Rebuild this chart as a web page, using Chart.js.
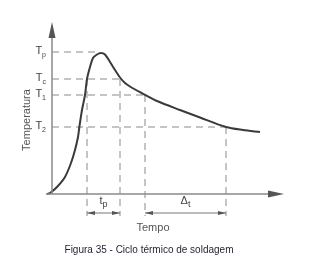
<!DOCTYPE html>
<html><head><meta charset="utf-8">
<script src="https://cdn.jsdelivr.net/npm/chart.js@4"></script>
<style>html,body{margin:0;padding:0;background:#fff;}#wrap{width:324px;height:266px;}</style>
</head><body><div id="wrap"><canvas id="c" width="324" height="266"></canvas></div>
<script>
// Welding thermal cycle (arbitrary units)
const curveTime = [1, 4, 11, 19, 25, 29, 32, 33.5, 36, 39, 41, 44, 47, 51, 55, 59, 64, 69, 74, 79, 84, 94, 101, 111, 134, 154, 180, 197, 214];
const curveTemp = [0, 1, 7, 17, 31, 44, 57, 68, 84, 99, 115, 127, 136, 139.5, 141, 139.5, 132, 124, 116.5, 111, 107.5, 101.8, 98.2, 93, 84, 76.5, 67, 64, 62];
const levelNames = ['p', 'c', '1', '2'];
const levelTemps = [142, 115, 99, 67];
const levelEndTimes = [51, 74, 99, 180];
const markTimes = [41, 74, 99, 180];
const markTopTemps = [115, 115, 99, 67];
const spanStart = [41, 99];
const spanEnd = [74, 180];
const spanMain = ['t', 'Δ'];
const spanSub = ['p', 't'];
const axisStartTime = 6;
const markBottom = -22;
const spanLevel = -19;

const datasets = [{
  data: curveTime.map((t, i) => ({x: t, y: curveTemp[i]})),
  borderColor: '#3a3a3a', borderWidth: 2, pointRadius: 0,
  tension: 0.3, fill: false, clip: false
}];
levelTemps.forEach((lv, i) => datasets.push({
  data: [{x: axisStartTime, y: lv}, {x: levelEndTimes[i], y: lv}],
  borderColor: '#8a8a8a', borderWidth: 1, borderDash: [7, 5], pointRadius: 0, clip: false
}));
markTimes.forEach((t, i) => datasets.push({
  data: [{x: t, y: markTopTemps[i]}, {x: t, y: markBottom}],
  borderColor: '#8a8a8a', borderWidth: 1, borderDash: [7, 5], pointRadius: 0, clip: false
}));

function tri(ctx, pts) { ctx.beginPath(); ctx.moveTo(pts[0][0], pts[0][1]); ctx.lineTo(pts[1][0], pts[1][1]); ctx.lineTo(pts[2][0], pts[2][1]); ctx.closePath(); ctx.fill(); }
function subText(ctx, main, sub, x, y, size, subSize, align) {
  ctx.font = size + 'px "Liberation Sans", Arial, sans-serif';
  const w1 = ctx.measureText(main).width;
  ctx.font = subSize + 'px "Liberation Sans", Arial, sans-serif';
  const w2 = ctx.measureText(sub).width;
  let x0 = align === 'right' ? x - w1 - w2 : (align === 'center' ? x - (w1 + w2) / 2 : x);
  ctx.textAlign = 'left'; ctx.textBaseline = 'alphabetic';
  ctx.font = size + 'px "Liberation Sans", Arial, sans-serif';
  ctx.fillText(main, x0, y);
  ctx.font = subSize + 'px "Liberation Sans", Arial, sans-serif';
  ctx.fillText(sub, x0 + w1, y + size * 0.3);
}

const deco = {
  id: 'deco',
  afterDatasetsDraw(chart) {
    const ctx = chart.ctx, xs = chart.scales.x, ys = chart.scales.y;
    const ax = xs.getPixelForValue(axisStartTime), ay = ys.getPixelForValue(0);
    ctx.save();
    // axes
    ctx.strokeStyle = '#8a8a8a'; ctx.lineWidth = 1.5;
    ctx.beginPath(); ctx.moveTo(ax, ay); ctx.lineTo(ax, chart.chartArea.top + 14); ctx.stroke();
    ctx.beginPath(); ctx.moveTo(xs.getPixelForValue(0), ay); ctx.lineTo(chart.chartArea.right - 14, ay); ctx.stroke();
    ctx.fillStyle = '#555';
    tri(ctx, [[ax, chart.chartArea.top], [ax - 3.5, chart.chartArea.top + 16], [ax + 3.5, chart.chartArea.top + 16]]);
    tri(ctx, [[chart.chartArea.right, ay], [chart.chartArea.right - 16, ay - 3.5], [chart.chartArea.right - 16, ay + 3.5]]);
    // level labels
    ctx.fillStyle = '#444';
    levelTemps.forEach((lv, i) => subText(ctx, 'T', levelNames[i], ax - 6, ys.getPixelForValue(lv) + 2, 11, 7, 'right'));
    // span arrows
    const sy = ys.getPixelForValue(spanLevel);
    spanStart.forEach((s, i) => {
      const x1 = xs.getPixelForValue(s), x2 = xs.getPixelForValue(spanEnd[i]);
      ctx.strokeStyle = '#777'; ctx.lineWidth = 1;
      ctx.beginPath(); ctx.moveTo(x1, sy); ctx.lineTo(x2, sy); ctx.stroke();
      ctx.fillStyle = '#555';
      tri(ctx, [[x1, sy], [x1 + 8, sy - 2], [x1 + 8, sy + 2]]);
      tri(ctx, [[x2, sy], [x2 - 8, sy - 2], [x2 - 8, sy + 2]]);
      ctx.fillStyle = '#444';
      subText(ctx, spanMain[i], spanSub[i], (x1 + x2) / 2, sy - 9, 11, 9, 'center');
    });
    // axis titles
    ctx.fillStyle = '#555';
    ctx.font = '11px "Liberation Sans", Arial, sans-serif';
    ctx.textAlign = 'center'; ctx.textBaseline = 'middle';
    ctx.fillText('Tempo', 153, 228);
    ctx.save(); ctx.translate(27, 120); ctx.rotate(-Math.PI / 2);
    ctx.fillText('Temperatura', 0, 0); ctx.restore();
    ctx.fillStyle = '#1e2030';
    ctx.font = '10px "Liberation Sans", Arial, sans-serif';
    ctx.fillText('Figura 35 - Ciclo térmico de soldagem', 149, 250);
    ctx.restore();
  }
};

new Chart(document.getElementById('c'), {
  type: 'line',
  data: {datasets},
  options: {
    responsive: false, animation: false, events: [],
    layout: {padding: {left: 46, right: 40, top: 22, bottom: 72}},
    plugins: {legend: {display: false}, tooltip: {enabled: false}},
    scales: {
      x: {type: 'linear', display: false, min: 0, max: 238},
      y: {type: 'linear', display: false, min: 0, max: 172}
    }
  },
  plugins: [deco]
});
</script></body></html>
